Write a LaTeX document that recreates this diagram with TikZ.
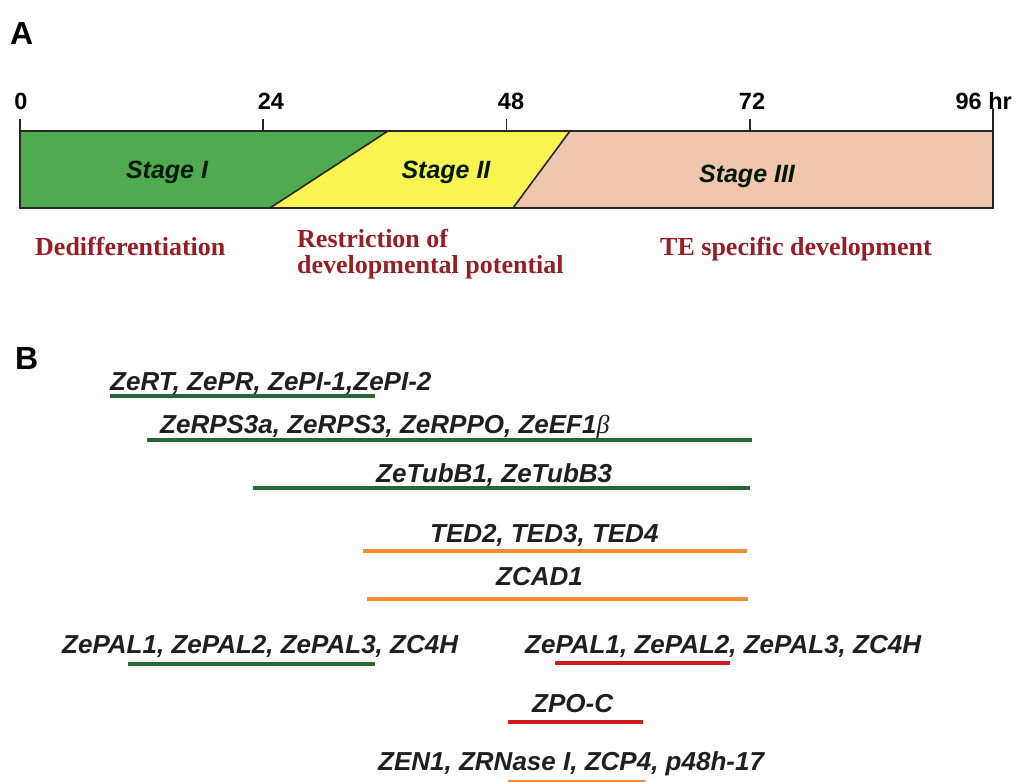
\documentclass[tikz,border=0pt]{standalone}
\usepackage{fontspec}
\setmainfont{Liberation Serif}
\setsansfont{Liberation Sans}
\definecolor{stagegreen}{RGB}{80,170,80}
\definecolor{stageyellow}{RGB}{250,244,82}
\definecolor{stagepink}{RGB}{241,198,174}
\definecolor{linegreen}{RGB}{38,104,52}
\definecolor{lineorange}{RGB}{244,140,52}
\definecolor{linered}{RGB}{208,28,30}
\definecolor{labelred}{RGB}{150,30,36}
\tikzset{
  panel/.style={anchor=base west, inner sep=0pt, font=\sffamily\bfseries\fontsize{32}{34}\selectfont},
  hour/.style={anchor=base, inner sep=0pt, font=\sffamily\bfseries\fontsize{23.5}{26}\selectfont},
  stage/.style={inner sep=0pt, text=black!90!green, font=\sffamily\bfseries\itshape\fontsize{25}{28}\selectfont},
  phase/.style={anchor=base west, inner sep=0pt, text=labelred, font=\rmfamily\bfseries\fontsize{26}{28}\selectfont},
  gene/.style={anchor=base west, inner sep=0pt, text=black!88, font=\sffamily\bfseries\itshape\fontsize{26}{30}\selectfont},
  barline/.style={draw=black!85, line width=1.6pt},
  greenbar/.style={draw=linegreen, line width=4.5pt},
  orangebar/.style={draw=lineorange, line width=4.5pt},
  redbar/.style={draw=linered, line width=4.5pt}
}
\begin{document}
\begin{tikzpicture}[x=1pt,y=-1pt]
\useasboundingbox (0,0) rectangle (1018,782);

% panel A: time bar
\node[panel] (A) at (10,44) {A};
\fill[stagegreen] (20,131) -- (388,131) -- (270,208) -- (20,208) -- cycle;
\fill[stageyellow] (388,131) -- (570,131) -- (513,208) -- (270,208) -- cycle;
\fill[stagepink] (570,131) -- (993,131) -- (993,208) -- (513,208) -- cycle;
\draw[barline] (20,131) rectangle (993,208);
\draw[barline] (388,131) -- (270,208);
\draw[barline] (570,131) -- (513,208);
\foreach \t in {0,24,48,72} {
  \draw[barline] ({20+10.135*\t},119) -- ({20+10.135*\t},131);
}
\draw[barline] (993,108) -- (993,131);
\node[hour] (h0) at (21,109) {0};
\node[hour] (h24) at (271,109) {24};
\node[hour] (h48) at (511,109) {48};
\node[hour] (h72) at (752,109) {72};
\node[hour, anchor=base east] (h96) at (1012,109) {96 hr};
\node[stage] (s1) at (167,172) {Stage I};
\node[stage] (s2) at (446,172) {Stage II};
\node[stage] (s3) at (747,176) {Stage III};
\node[phase] (dediff) at (35,255) {Dedifferentiation};
\node[phase] (restr) at (297,247) {Restriction of};
\node[phase] (devpot) at (297,273) {developmental potential};
\node[phase] (tespec) at (660,255) {TE specific development};

% panel B: gene expression
\node[panel] (B) at (15,369) {B};
\node[gene] (zert) at (110,390) {ZeRT, ZePR, ZePI-1,ZePI-2};
\draw[greenbar] (110,396) -- (375,396);
\node[gene] (zerps) at (160,433) {ZeRPS3a, ZeRPS3, ZeRPPO, ZeEF1{\rmfamily\mdseries β}};
\draw[greenbar] (147,440) -- (752,440);
\node[gene] (zetub) at (376,482) {ZeTubB1, ZeTubB3};
\draw[greenbar] (253,488) -- (750,488);
\node[gene] (ted) at (430,542) {TED2, TED3, TED4};
\draw[orangebar] (363,551) -- (747,551);
\node[gene] (zcad) at (496,585) {ZCAD1};
\draw[orangebar] (367,599) -- (748,599);
\node[gene] (zpal1) at (62,653) {ZePAL1, ZePAL2, ZePAL3, ZC4H};
\draw[greenbar] (128,664) -- (375,664);
\node[gene] (zpal2) at (525,653) {ZePAL1, ZePAL2, ZePAL3, ZC4H};
\draw[redbar] (555,663) -- (730,663);
\node[gene] (zpo) at (532,712) {ZPO-C};
\draw[redbar] (508,722) -- (643,722);
\node[gene] (zen) at (378,770) {ZEN1, ZRNase I, ZCP4, p48h-17};
\draw[orangebar] (508,782) -- (645,782);

\end{tikzpicture}
\end{document}
